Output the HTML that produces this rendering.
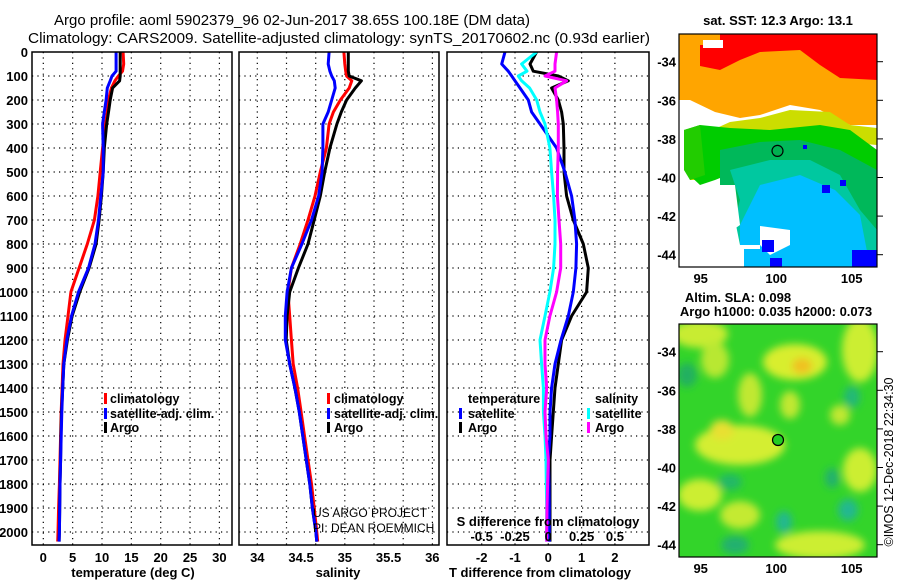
<!DOCTYPE html>
<html><head><meta charset="utf-8"><style>
html,body{margin:0;padding:0;background:#fff;}
svg{display:block;font-family:"Liberation Sans",sans-serif;}
.tk{font-size:13px;font-weight:bold;}
.lg{font-size:12.5px;font-weight:bold;}
</style></head><body>
<svg id="chart" width="900" height="580" viewBox="0 0 900 580" xmlns="http://www.w3.org/2000/svg">
<defs>
<filter id="blur" x="-20%" y="-20%" width="140%" height="140%"><feGaussianBlur stdDeviation="4"/></filter>
<clipPath id="clipTop"><rect x="679" y="34" width="198" height="233"/></clipPath>
<clipPath id="clipBot"><rect x="679" y="324" width="198" height="233"/></clipPath>
<clipPath id="c1"><rect x="32" y="52" width="200" height="493"/></clipPath>
<clipPath id="c2"><rect x="239" y="52" width="200" height="493"/></clipPath>
<clipPath id="c3"><rect x="447" y="52" width="202" height="493"/></clipPath>
</defs>
<text x="292" y="25" font-size="15" text-anchor="middle" textLength="476" lengthAdjust="spacingAndGlyphs">Argo profile: aoml 5902379_96 02-Jun-2017 38.65S 100.18E (DM data)</text>
<text x="339" y="43" font-size="15" text-anchor="middle" textLength="622" lengthAdjust="spacingAndGlyphs">Climatology: CARS2009. Satellite-adjusted climatology: synTS_20170602.nc (0.93d earlier)</text>

<g id="grids"></g>
<g id="series"></g>
<g id="frames"></g>
<g id="labels"></g>

<g class="lg">
<rect x="104" y="393" width="3" height="11" fill="#f00"/><text x="110" y="403">climatology</text>
<rect x="104" y="408" width="3" height="11" fill="#00f"/><text x="110" y="418">satellite-adj. clim.</text>
<rect x="104" y="422" width="3" height="11" fill="#000"/><text x="110" y="432">Argo</text>
</g>
<g class="lg">
<rect x="327" y="393" width="3" height="11" fill="#f00"/><text x="334" y="403">climatology</text>
<rect x="327" y="408" width="3" height="11" fill="#00f"/><text x="334" y="418">satellite-adj. clim.</text>
<rect x="327" y="422" width="3" height="11" fill="#000"/><text x="334" y="432">Argo</text>
</g>
<g class="lg">
<text x="468" y="403">temperature</text>
<rect x="459" y="408" width="3" height="11" fill="#00f"/><text x="468" y="418">satellite</text>
<rect x="459" y="422" width="3" height="11" fill="#000"/><text x="468" y="432">Argo</text>
<text x="595" y="403">salinity</text>
<rect x="587" y="408" width="3" height="11" fill="#0ff"/><text x="595" y="418">satellite</text>
<rect x="587" y="422" width="3" height="11" fill="#f0f"/><text x="595" y="432">Argo</text>
</g>
<text x="313" y="517" font-size="12" fill="#000">US ARGO PROJECT</text>
<text x="313" y="532" font-size="12" fill="#000">PI: DEAN ROEMMICH</text>

<g clip-path="url(#clipTop)">
<rect x="679" y="34" width="198" height="233" fill="#fff"/>
<polygon points="679,34 877,34 877,125 850,125 820,110 790,105 760,115 740,118 715,112 690,100 679,100" fill="#ffa500"/>
<polygon points="679,34 877,34 877,80 840,78 820,65 800,50 760,52 740,60 720,70 700,66 679,66" fill="#ff0000"/>
<polygon points="679,34 720,34 720,45 700,45 700,50 679,50" fill="#ffa500"/>
<polygon points="703,40 723,40 723,48 703,48" fill="#fff"/>
<polygon points="679,50 700,50 700,75 688,75 688,95 679,95" fill="#ffa500"/>
<polygon points="690,140 730,122 760,118 790,110 830,112 850,125 877,128 877,145 840,142 800,140 770,150 740,160 710,180 690,180" fill="#ccdd00"/>
<polygon points="684,130 700,125 730,128 770,130 820,125 850,130 877,150 877,210 850,200 820,170 780,165 740,170 715,180 700,185 684,170" fill="#00cc00"/>
<polygon points="720,150 760,142 800,140 840,150 877,170 877,230 855,210 820,200 780,200 740,215 720,210" fill="#00b85a"/>
<polygon points="730,170 770,160 810,160 840,175 860,210 877,230 877,267 760,267 760,245 740,245 735,220 740,200" fill="#00c8a0"/>
<polygon points="760,185 800,175 835,190 860,215 870,267 760,267 760,245 740,245 740,225" fill="#00bfff"/>
<polygon points="760,246 777,246 777,262 790,262 790,267 760,267" fill="#00bfff"/>
<polygon points="744,249 760,249 760,267 744,267" fill="#00bfff"/>
<polygon points="679,185 735,185 740,225 730,232 720,240 722,267 679,267" fill="#fff"/>
<polygon points="760,226 790,230 790,245 770,255 760,245" fill="#fff"/>
<polygon points="684,130 700,125 705,175 690,180 684,170" fill="#22cc00"/>
<polygon points="679,100 688,100 688,125 679,125" fill="#fff"/>
<rect x="762" y="240" width="12" height="12" fill="#0000ff"/>
<rect x="770" y="258" width="12" height="9" fill="#0000ff"/>
<rect x="852" y="250" width="25" height="17" fill="#0000ff"/>
<rect x="822" y="185" width="8" height="8" fill="#0000ff"/>
<rect x="840" y="180" width="6" height="6" fill="#0000ff"/>
<rect x="803" y="145" width="4" height="4" fill="#0000ff"/>
<circle cx="777.5" cy="150.9" r="5.5" fill="#00b050" stroke="#000" stroke-width="1.2"/>
</g>
<rect x="679" y="34" width="198" height="233" fill="none" stroke="#000" stroke-width="1.2"/>
<text x="778" y="25" text-anchor="middle" class="tk">sat. SST: 12.3 Argo: 13.1</text>

<g clip-path="url(#clipBot)">
<rect x="679" y="324" width="198" height="233" fill="#33d42a"/>
<g filter="url(#blur)">
<ellipse cx="700" cy="334" rx="28" ry="14" fill="#c8ec30"/>
<ellipse cx="715" cy="360" rx="14" ry="18" fill="#b8e832"/>
<ellipse cx="795" cy="362" rx="32" ry="18" fill="#d8ee2e"/>
<ellipse cx="802" cy="366" rx="10" ry="8" fill="#f0c020"/>
<ellipse cx="860" cy="350" rx="18" ry="32" fill="#ccee33"/>
<ellipse cx="750" cy="395" rx="12" ry="22" fill="#c0e833"/>
<ellipse cx="790" cy="405" rx="10" ry="14" fill="#c0e833"/>
<ellipse cx="740" cy="445" rx="45" ry="20" fill="#d4ee30"/>
<ellipse cx="722" cy="430" rx="12" ry="10" fill="#e8e030"/>
<ellipse cx="700" cy="495" rx="22" ry="16" fill="#ccee33"/>
<ellipse cx="740" cy="515" rx="20" ry="14" fill="#c4ea33"/>
<ellipse cx="860" cy="470" rx="17" ry="22" fill="#ccee33"/>
<ellipse cx="820" cy="545" rx="45" ry="14" fill="#ccee33"/>
<ellipse cx="840" cy="415" rx="10" ry="10" fill="#c0e833"/>
<ellipse cx="852" cy="397" rx="8" ry="11" fill="#20b878"/>
<ellipse cx="784" cy="522" rx="8" ry="11" fill="#20b890"/>
<ellipse cx="848" cy="510" rx="10" ry="11" fill="#20b890"/>
<ellipse cx="832" cy="478" rx="7" ry="10" fill="#20b070"/>
<ellipse cx="687" cy="375" rx="10" ry="12" fill="#20b060"/>
<ellipse cx="730" cy="482" rx="12" ry="8" fill="#20b868"/>
<ellipse cx="735" cy="545" rx="14" ry="9" fill="#20b070"/>
</g>
<circle cx="778" cy="440" r="5.5" fill="#22cc22" stroke="#000" stroke-width="1.2"/>
</g>
<rect x="679" y="324" width="198" height="233" fill="none" stroke="#000" stroke-width="1.2"/>
<text x="738" y="302" text-anchor="middle" class="tk">Altim. SLA: 0.098</text>
<text x="776" y="316" text-anchor="middle" class="tk">Argo h1000: 0.035 h2000: 0.073</text>
<text transform="translate(893,462) rotate(-90)" text-anchor="middle" font-size="12.5">©IMOS 12-Dec-2018 22:34:30</text>

<text x="548" y="526" text-anchor="middle" class="tk">S difference from climatology</text>
<text x="540" y="577" text-anchor="middle" class="tk">T difference from climatology</text>
<text x="133" y="577" text-anchor="middle" class="tk">temperature (deg C)</text>
<text x="338" y="577" text-anchor="middle" class="tk">salinity</text>
</svg>
<script>
const depths=[0,50,80,100,120,150,200,250,300,400,500,600,700,800,900,1000,1100,1200,1300,1400,1500,1600,1700,1800,1900,2000,2040];
const tempClim=[13.6,13.7,13.5,12.8,12.2,11.6,11.1,10.9,10.6,10.1,9.7,9.3,8.7,7.5,6.1,4.7,4.2,3.7,3.35,3.2,3.05,2.95,2.85,2.75,2.6,2.5,2.45];
const tempSat=[12.4,12.4,12.4,11.7,11.4,10.9,10.7,10.4,10.1,10.2,10.2,9.8,9.4,8.8,7.7,6.0,4.8,4.0,3.5,3.3,3.15,3.05,2.95,2.85,2.8,2.75,2.7];
const tempArgo=[13.1,13.1,13.1,13.1,13.0,11.8,11.4,11.1,10.8,10.4,10.2,9.9,9.5,9.0,7.8,6.2,4.9,4.1,3.5,3.3,3.1,3.0,2.95,2.85,2.8,2.75,2.7];
const salClim=[34.99,35.0,35.01,35.02,35.08,35.05,34.95,34.87,34.82,34.79,34.72,34.66,34.58,34.49,34.39,34.35,34.37,34.39,34.41,34.46,34.5,34.54,34.58,34.62,34.65,34.68,34.69];
const salSat=[34.82,34.81,34.83,34.85,34.88,34.89,34.85,34.81,34.75,34.75,34.74,34.70,34.62,34.51,34.39,34.34,34.32,34.32,34.37,34.43,34.48,34.52,34.56,34.6,34.63,34.67,34.68];
const salArgo=[35.04,35.04,35.04,35.05,35.19,35.12,35.02,34.96,34.91,34.83,34.77,34.72,34.65,34.58,34.47,34.37,34.34,34.33,34.37,34.43,34.48,34.52,34.56,34.6,34.63,34.67,34.68];
const dTSat=[-1.3,-1.4,-1.2,-1.1,-1.0,-0.85,-0.6,-0.5,-0.25,0.25,0.5,0.7,0.8,0.85,0.83,0.75,0.6,0.38,0.2,0.1,0.05,0.05,0.0,0.02,0.03,0.03,0.03];
const dTArgo=[-0.35,-0.55,-0.45,0.3,0.6,0.1,0.3,0.4,0.45,0.47,0.47,0.55,0.75,1.05,1.2,1.15,0.7,0.4,0.3,0.2,0.15,0.1,0.05,0.05,0.05,0.05,0.05];
const dSSat=[-0.087,-0.2,-0.16,-0.225,-0.2,-0.14,-0.087,-0.062,-0.025,0.012,0.025,0.04,0.05,0.05,0.04,0.012,-0.025,-0.062,-0.05,-0.037,-0.037,-0.025,-0.017,-0.015,-0.012,-0.012,-0.012];
const dSArgo=[0.062,0.05,0.05,-0.025,0.137,0.05,0.062,0.07,0.075,0.075,0.07,0.068,0.08,0.093,0.093,0.062,0.012,-0.025,-0.025,-0.012,-0.025,-0.017,0,-0.005,-0.01,-0.012,-0.012];
const depthTicks=[0,100,200,300,400,500,600,700,800,900,1000,1100,1200,1300,1400,1500,1600,1700,1800,1900,2000];
const tempTicks=[0,5,10,15,20,25,30];
const salTicks=[34,34.5,35,35.5,36];
const dTTicks=[-2,-1,0,1,2];
const dSTicks=[-0.5,-0.25,0,0.25,0.5];
const dSTickLabels=["-0.5","-0.25","0","0.25","0.5"];
const lonTicks=[95,100,105];
const latTicks=[-34,-36,-38,-40,-42,-44];

const NS='http://www.w3.org/2000/svg';
const yD=d=>52+0.24*d;
const xT=t=>43.3+5.87*t;
const xS=s=>257.3+87.5*(s-34);
const xDT=t=>548.3+33.3*t;
const xDS=s=>548.3+133.3*s;
const xLon=l=>700.7+15.1*(l-95);
const yLatTop=l=>61.7+19.3*(-34-l);
const yLatBot=l=>351.7+19.3*(-34-l);
function mk(tag,attrs,parent){const e=document.createElementNS(NS,tag);for(const k in attrs)e.setAttribute(k,attrs[k]);parent.appendChild(e);return e;}
const grids=document.getElementById('grids'),series=document.getElementById('series'),frames=document.getElementById('frames'),labels=document.getElementById('labels');
const panels=[{x0:32,x1:232,clip:'c1',name:'temperature'},{x0:239,x1:439,clip:'c2',name:'salinity'},{x0:447,x1:649,clip:'c3',name:'difference'}];
const vgrid=[tempTicks.map(xT),[257.3,286.5,315.7,344.8,374,403.2,432.4],dTTicks.map(xDT)];
panels.forEach((p,i)=>{
  depthTicks.forEach(d=>{if(d>0){const l=mk('line',{x1:p.x0,x2:p.x1,y1:yD(d),y2:yD(d),stroke:'#000','stroke-width':1.2,'stroke-dasharray':'1.2 4.2'},grids);
    
    }});
  vgrid[i].forEach(x=>{const l=mk('line',{x1:x,x2:x,y1:52,y2:545,stroke:'#000','stroke-width':1.2,'stroke-dasharray':'1.2 4.2'},grids);
    
    });
  const r=mk('rect',{x:p.x0,y:52,width:p.x1-p.x0,height:493,fill:'none',stroke:'#000','stroke-width':1.5},frames);
  
  
});
depthTicks.forEach(d=>{const t=mk('text',{x:28,y:yD(d)+5,'text-anchor':'end',class:'tk'},labels);t.textContent=d;
  
  });
tempTicks.forEach(v=>{const t=mk('text',{x:xT(v),y:562,'text-anchor':'middle',class:'tk'},labels);t.textContent=v;
  
  });
salTicks.forEach(v=>{const t=mk('text',{x:xS(v),y:562,'text-anchor':'middle',class:'tk'},labels);t.textContent=v;
  
  });
dTTicks.forEach(v=>{const t=mk('text',{x:xDT(v),y:562,'text-anchor':'middle',class:'tk'},labels);t.textContent=v;
  
  });
dSTicks.forEach((v,i)=>{const t=mk('text',{x:xDS(v),y:541,'text-anchor':'middle',class:'tk'},labels);t.textContent=dSTickLabels[i];
  
  });
lonTicks.forEach(v=>{[[283,267],[573,557]].forEach(([ty,by])=>{
  const t=mk('text',{x:xLon(v),y:ty,'text-anchor':'middle',class:'tk'},labels);t.textContent=v;
  
  
  const l=mk('line',{x1:xLon(v),x2:xLon(v),y1:by-4,y2:by,stroke:'#000'},labels);
  
  });});
latTicks.forEach(v=>{[yLatTop(v),yLatBot(v)].forEach(y=>{
  const t=mk('text',{x:676,y:y+5,'text-anchor':'end',class:'tk'},labels);t.textContent=v;
  
  
  const l=mk('line',{x1:877,x2:883,y1:y,y2:y,stroke:'#000'},labels);
  
  });});
function drawLine(vals,xf,color,clip,name){
  const pts=vals.map((v,i)=>xf(v).toFixed(1)+','+yD(depths[i]).toFixed(1)).join(' ');
  const e=mk('polyline',{points:pts,fill:'none',stroke:color,'stroke-width':3,'stroke-linejoin':'round','clip-path':'url(#'+clip+')'},series);
  
  
}
drawLine(tempClim,xT,'#f00','c1','temperature-climatology-line');
drawLine(tempArgo,xT,'#000','c1','temperature-argo-line');
drawLine(tempSat,xT,'#00f','c1','temperature-satellite-line');
drawLine(salClim,xS,'#f00','c2','salinity-climatology-line');
drawLine(salArgo,xS,'#000','c2','salinity-argo-line');
drawLine(salSat,xS,'#00f','c2','salinity-satellite-line');
drawLine(dTArgo,xDT,'#000','c3','t-difference-argo-line');
drawLine(dTSat,xDT,'#00f','c3','t-difference-satellite-line');
drawLine(dSSat,xDS,'#0ff','c3','s-difference-satellite-line');
drawLine(dSArgo,xDS,'#f0f','c3','s-difference-argo-line');
</script>
</body></html>
